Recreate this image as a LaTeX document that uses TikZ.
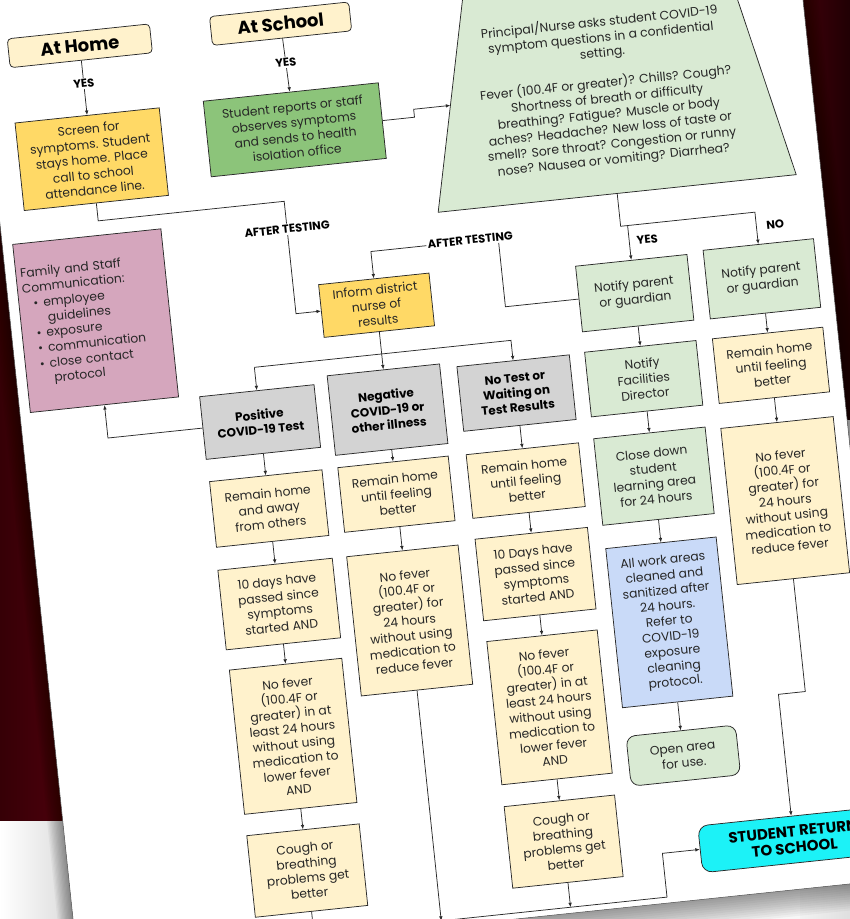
\documentclass[tikz,border=0pt]{standalone}
\usepackage{fontspec}
\setmainfont{Poppins}
\usetikzlibrary{arrows.meta,calc}
\definecolor{maroonA}{HTML}{360006}
\definecolor{maroonB}{HTML}{58000F}
\definecolor{linec}{HTML}{2A2A2A}
\definecolor{textc}{HTML}{262626}
\definecolor{headc}{HTML}{FFF2CC}
\definecolor{creamc}{HTML}{FFF2CC}
\definecolor{goldc}{HTML}{FFD966}
\definecolor{greenc}{HTML}{8CC47A}
\definecolor{lgreenc}{HTML}{D9EAD3}
\definecolor{pinkc}{HTML}{D5A6BD}
\definecolor{greyc}{HTML}{D3D3D3}
\definecolor{bluec}{HTML}{C9DAF8}
\definecolor{cyanc}{HTML}{1CF2F7}
\newcommand\boxfont{\fontsize{12.3}{15.3}\selectfont}
\begin{document}
\begin{tikzpicture}[x=1pt,y=-1pt,
  box/.style={draw=linec, line width=0.75pt, text=textc, align=center, inner sep=1pt, font=\boxfont, minimum width=113pt},
  cream/.style={box, fill=creamc},
  gold/.style={box, fill=goldc},
  lgreen/.style={box, fill=lgreenc},
  grey/.style={box, fill=greyc, text=black, font=\fontsize{12}{15}\selectfont\bfseries},
  hdr/.style={draw=linec, line width=0.75pt, fill=headc, rounded corners=4pt, text=black, font=\fontsize{18}{20}\selectfont\bfseries, minimum height=29pt, inner sep=1pt},
  arr/.style={draw=linec, line width=0.75pt, -{Latex[length=4.5pt,width=3.6pt]}},
  lbl/.style={fill=white, inner sep=1.5pt, font=\fontsize{11.5}{13}\selectfont\bfseries, text=black},
]
\useasboundingbox (0,0) rectangle (850,919);
% ---------- background ----------
\fill[white!94!gray] (0,0) rectangle (850,919);
\shade[left color=white, right color=gray!35] (0,820) rectangle (90,919);
\shade[left color=maroonA, right color=maroonB] (0,0) rectangle (100,820);
\shade[left color=maroonB, right color=maroonA!60!black] (760,0) rectangle (850,420);
\shade[left color=gray!10, right color=gray!25] (800,420) rectangle (850,919);
\begin{scope}[rotate around={6:(425,460)}, transform shape]
% paper shadow + paper
\foreach \k in {1,...,12}
  \fill[black, opacity=0.035] ({27-\k*1.3},-250) rectangle ({849+\k*1.3},{926+\k*2.2});
\filldraw[fill=white, draw=gray!60!black, line width=0.5pt] (27,-250) rectangle (849,926);

% ---------- top ----------
\node[hdr, minimum width=143pt] (home) at (125,12) {At Home};
\node[hdr, minimum width=140pt] (school) at (327,11) {At School};
\node[gold, minimum width=145pt, minimum height=88pt] (screen) at (125,126)
  {Screen for\\symptoms. Student\\stays home. Place\\call to school\\attendance line.};
\node[box, fill=greenc, minimum width=176pt, minimum height=76pt] (student) at (330,118)
  {Student reports or staff\\observes symptoms\\and sends to health\\isolation office};
% trapezoid question box
\filldraw[fill=lgreenc, draw=linec, line width=0.75pt] (464,215) -- (824,215) -- (774,-10) -- (514,-10) -- cycle;
\node[text=textc, align=center, font=\fontsize{12.4}{15.4}\selectfont] (quest) at (644,112)
  {Principal/Nurse asks student COVID-19\\symptom questions in a confidential\\setting.\\[15pt]
   Fever (100.4F or greater)? Chills? Cough?\\Shortness of breath or difficulty\\breathing? Fatigue? Muscle or body\\aches? Headache? New loss of taste or\\smell? Sore throat? Congestion or runny\\nose? Nausea or vomiting? Diarrhea?};
\coordinate (trapbot) at (644,215);
\coordinate (trapin) at (487.3,110);

% ---------- middle ----------
\node[box, fill=pinkc, minimum width=149pt, minimum height=169pt, text width=140pt, align=left] (fam) at (112,287)
  {Family and Staff\\Communication:\\
   \hspace*{10pt}{\large\textbullet}\hspace{5pt}employee\\
   \hspace*{23pt}guidelines\\
   \hspace*{10pt}{\large\textbullet}\hspace{5pt}exposure\\
   \hspace*{10pt}{\large\textbullet}\hspace{5pt}communication\\
   \hspace*{10pt}{\large\textbullet}\hspace{5pt}close contact\\
   \hspace*{23pt}protocol};
\node[gold, minimum width=111pt, minimum height=53pt] (inform) at (393,301) {Inform district\\nurse of\\results};
\node[lgreen, minimum width=112pt, minimum height=66pt] (nyes) at (651,316) {Notify parent\\or guardian};
\node[lgreen, minimum width=111pt, minimum height=69pt] (nno) at (779,315) {Notify parent\\or guardian};

\node[grey, minimum width=115pt, minimum height=63pt] (pos) at (265,405) {Positive\\COVID-19 Test};
\node[grey, minimum height=80pt] (neg) at (393,406) {Negative\\COVID-19 or\\other illness};
\node[grey, minimum height=65pt] (nt) at (523,403) {No Test or\\Waiting on\\Test Results};
\node[lgreen, minimum width=112pt, minimum height=65pt] (fac) at (651,402) {Notify\\Facilities\\Director};
\node[cream, minimum width=111pt, minimum height=65pt] (r2) at (779,402) {Remain home\\until feeling\\better};

% ---------- columns ----------
\node[cream, minimum height=66pt] (p1) at (265,492) {Remain home\\and away\\from others};
\node[cream, minimum width=115pt, minimum height=80pt] (p2) at (265,588) {10 days have\\passed since\\symptoms\\started AND};
\node[cream, minimum height=145pt] (p3) at (265,721) {No fever\\(100.4F or\\greater) in at\\least 24 hours\\without using\\medication to\\lower fever\\AND};
\node[cream, minimum height=82pt] (p4) at (265,856) {Cough or\\breathing\\problems get\\better};

\node[cream, minimum width=111pt, minimum height=65pt] (n1) at (393,491) {Remain home\\until feeling\\better};
\node[cream, minimum width=112pt, minimum height=140pt] (n2) at (393,618) {No fever\\(100.4F or\\greater) for\\24 hours\\without using\\medication to\\reduce fever};

\node[cream, minimum height=64pt] (t1) at (523,491) {Remain home\\until feeling\\better};
\node[cream, minimum height=82pt] (t2) at (523,585) {10 Days have\\passed since\\symptoms\\started AND};
\node[cream, minimum width=111pt, minimum height=144pt] (t3) at (523,719) {No fever\\(100.4F or\\greater) in at\\least 24 hours\\without using\\medication to\\lower fever\\AND};
\node[cream, minimum width=111pt, minimum height=82pt] (t4) at (523,854) {Cough or\\breathing\\problems get\\better};

\node[lgreen, minimum width=112pt, minimum height=87pt] (close) at (651,500) {Close down\\student\\learning area\\for 24 hours};
\node[box, fill=bluec, minimum width=111pt, minimum height=160pt] (work) at (651,647) {All work areas\\cleaned and\\sanitized after\\24 hours.\\Refer to\\COVID-19\\exposure\\cleaning\\protocol.};
\node[lgreen, rounded corners=9pt, minimum width=110pt, minimum height=50pt] (open) at (651,781) {Open area\\for use.};

\node[cream, minimum height=157pt] (r3) at (779,538) {No fever\\(100.4F or\\greater) for\\24 hours\\without using\\medication to\\reduce fever};
\node[box, fill=cyanc, rounded corners=10pt, minimum width=188pt, minimum height=47pt, text=black,
      font=\fontsize{15}{16.5}\selectfont\bfseries] (ret) at (752,876) {STUDENT RETURN\\TO SCHOOL};

% ---------- connectors ----------
\draw[arr] (home) -- node[lbl, pos=0.42] {YES} (screen);
\draw[arr] (school) -- node[lbl, pos=0.45] {YES} (student);
\draw[arr] (student.east) -- ++(32,0) |- (trapin);

\coordinate (at1) at (312,188);
\draw[arr] (screen.south) |- (at1) |- (inform.west);
\node[lbl] (aft1) at (312,216) {AFTER TESTING};

\coordinate (at2) at (521,247);
\draw[arr] (nyes.west) -| (at2) -| (inform.north);
\node[lbl] (aft2) at (493,246) {AFTER TESTING};

\coordinate (sp) at (644,248);
\draw[arr] (trapbot) -- (sp) -| (nno.north);
\draw[arr] (nyes.north |- sp) -- (nyes.north);
\node[lbl, fill=none] (yeslbl) at (669,264) {YES};
\node[lbl, fill=none] (nolbl) at (798,262) {NO};

\draw[arr] (inform.south) -- (neg.north);
\coordinate (bus) at (265,350);
\draw[arr] (bus) -- (pos.north);
\draw[arr] (bus) -| (nt.north);
\draw[arr] (pos.west) -| (fam.south);

\draw[arr] (pos) -- (p1); \draw[arr] (p1) -- (p2); \draw[arr] (p2) -- (p3); \draw[arr] (p3) -- (p4);
\draw[arr] (neg) -- (n1); \draw[arr] (n1) -- (n2);
\draw[arr] (nt) -- (t1); \draw[arr] (t1) -- (t2); \draw[arr] (t2) -- (t3); \draw[arr] (t3) -- (t4);
\draw[arr] (nyes) -- (fac); \draw[arr] (fac) -- (close); \draw[arr] (close) -- (work); \draw[arr] (work) -- (open);
\draw[arr] (nno) -- (r2); \draw[arr] (r2) -- (r3);

\coordinate (bb) at (620,920);
\draw[arr] (p4.south) |- (bb) |- (ret.west);
\draw[arr] (n2.south) -- (n2.south |- bb);
\draw[arr] (t4.south) -- (t4.south |- bb);
\coordinate (jog) at (752,730);
\draw[arr] (r3.south) |- (jog) -- (ret.north);
\end{scope}
\end{tikzpicture}
\end{document}
